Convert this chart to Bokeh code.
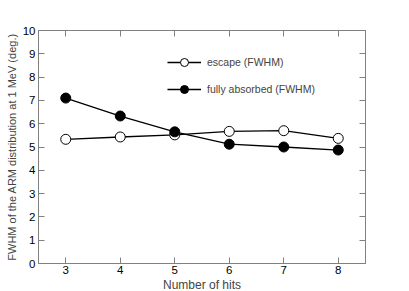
from bokeh.plotting import figure
from bokeh.models import LinearAxis, Legend, LegendItem, Range1d, FixedTicker
from bokeh.embed import file_html
from bokeh.resources import INLINE

hits = [3, 4, 5, 6, 7, 8]
escape = [5.33, 5.43, 5.52, 5.67, 5.70, 5.37]
absorbed = [7.10, 6.33, 5.65, 5.12, 5.00, 4.87]
xticks = [3, 4, 5, 6, 7, 8]
yticks = list(range(0, 11))

FONT = "Liberation Sans"
AX = "#808080"

p = figure(frame_width=327, frame_height=233, output_backend="svg", toolbar_location=None,
           x_range=Range1d(2.5, 8.5), y_range=Range1d(0, 10),
           min_border_left=38, min_border_top=30, min_border_right=30, min_border_bottom=10)
p.grid.visible = False
p.outline_line_color = AX
p.background_fill_color = "white"
p.border_fill_color = "white"

def style(ax, labels=True):
    ax.axis_line_color = AX
    ax.major_tick_line_color = AX
    ax.major_tick_in = 6
    ax.major_tick_out = 0
    ax.minor_tick_line_color = None
    ax.major_label_text_font = FONT
    ax.major_label_text_font_size = "11.5px"
    ax.major_label_text_color = "black" if labels else None
    ax.axis_label_text_font = FONT
    ax.axis_label_text_font_size = "12px"
    ax.axis_label_text_font_style = "normal"
    ax.major_label_standoff = 3
    ax.axis_label_standoff = 2

p.xaxis.ticker = FixedTicker(ticks=xticks)
p.yaxis.ticker = FixedTicker(ticks=yticks)
p.xaxis.axis_label = "Number of hits"
p.yaxis.axis_label = "FWHM of the ARM distribution at 1 MeV (deg.)"
style(p.xaxis[0]); style(p.yaxis[0])
p.xaxis[0].major_label_standoff = 2
p.xaxis[0].axis_label_standoff = 1
p.yaxis[0].axis_label_text_font_size = "11px"

top = LinearAxis(ticker=FixedTicker(ticks=xticks))
style(top, labels=False)
top.major_label_text_font_size = "0px"
top.major_label_standoff = 0
right = LinearAxis(ticker=FixedTicker(ticks=yticks))
style(right, labels=False)
right.major_label_text_font_size = "0px"
right.major_label_standoff = 0
p.add_layout(top, "above")
p.add_layout(right, "right")

l1 = p.line(hits, escape, line_color="black", line_width=1.3)
c1 = p.scatter(hits, escape, size=10, marker="circle", fill_color="white", line_color="black", line_width=1)
l2 = p.line(hits, absorbed, line_color="black", line_width=1.3)
c2 = p.scatter(hits, absorbed, size=10, marker="circle", fill_color="black", line_color="black")

leg = Legend(items=[LegendItem(label="escape (FWHM)", renderers=[l1, c1]),
                    LegendItem(label="fully absorbed (FWHM)", renderers=[l2, c2])],
             location=(129, 164), padding=0, margin=0, spacing=7,
             glyph_width=34, glyph_height=20, label_standoff=6,
             border_line_color=None, background_fill_alpha=0,
             label_text_font=FONT, label_text_font_size="10.5px")
p.add_layout(leg, "center")

open("out.html", "w").write(file_html(p, INLINE))
